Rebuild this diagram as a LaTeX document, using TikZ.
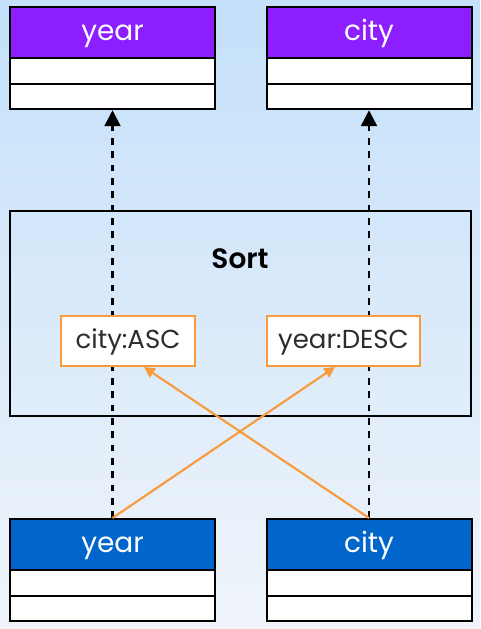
\documentclass[tikz,border=0pt]{standalone}
\usepackage{fontspec}
\setmainfont{Poppins}
\newfontfamily\sortfont{Poppins SemiBold}
\usetikzlibrary{arrows.meta}
\definecolor{hdrpurple}{RGB}{140,30,255}
\definecolor{hdrblue}{RGB}{0,102,204}
\definecolor{sortorange}{RGB}{247,155,60}
\definecolor{txtgray}{RGB}{45,45,45}
\definecolor{bgtop}{RGB}{196,224,250}
\definecolor{bgbot}{RGB}{240,244,250}
\begin{document}
\begin{tikzpicture}[x=0.75pt,y=-0.75pt,
  hdr/.style={draw=black,line width=1.5pt,minimum width=153.75pt,minimum height=38.25pt,inner sep=0pt,text=white,font=\fontsize{21}{24}\selectfont,text height=15pt,text depth=3.5pt},
  rowbox/.style={draw=black,line width=1.5pt,fill=white,minimum width=153.75pt,minimum height=19.1pt,inner sep=0pt},
  sortbox/.style={draw=black,line width=1.4pt,minimum width=345.75pt,minimum height=153.75pt,inner sep=0pt},
  keybox/.style={draw=sortorange,line width=1.6pt,fill=white,minimum height=37.5pt,inner sep=0pt,text=txtgray,font=\fontsize{19.5}{22}\selectfont,text height=14pt,text depth=3.5pt},
  flow/.style={dash pattern=on 5pt off 5pt,line width=1.9pt,-{Triangle[length=12pt,width=12pt]}},
  keyarrow/.style={draw=sortorange,line width=1.6pt,-{Triangle[length=8pt,width=8pt]}}]
\useasboundingbox (0,0) rectangle (480,629);
\shade[top color=bgtop,bottom color=bgbot] (0,0) rectangle (480,629);
% top tables
\node[hdr,fill=hdrpurple] (ty) at (112.5,32.5) {year};
\node[rowbox] (ty1) at (112.5,71) {};
\node[rowbox] (ty2) at (112.5,96.5) {};
\node[hdr,fill=hdrpurple] (tc) at (369,32.5) {city};
\node[rowbox] (tc1) at (369,71) {};
\node[rowbox] (tc2) at (369,96.5) {};
% sort
\node[sortbox] (sort) at (240.5,313.5) {};
\node[font=\sortfont\fontsize{21}{24}\selectfont,text=black] (sortlbl) at (240,259) {Sort};
% bottom tables
\node[hdr,fill=hdrblue] (by) at (112.5,544.5) {year};
\node[rowbox] (by1) at (112.5,583) {};
\node[rowbox] (by2) at (112.5,608.5) {};
\node[hdr,fill=hdrblue] (bc) at (369,544.5) {city};
\node[rowbox] (bc1) at (369,583) {};
\node[rowbox] (bc2) at (369,608.5) {};
% dashed flows (behind key boxes)
\draw[flow] (by.north) -- (ty2.south);
\draw[flow] (bc.north) -- (tc2.south);
% key boxes
\node[keybox,minimum width=100.5pt] (asc) at (128,341) {city:ASC};
\node[keybox,minimum width=114.75pt] (desc) at (343.5,341) {year:DESC};
\draw[keyarrow] (bc.north) -- ([xshift=12pt]asc.south);
\draw[keyarrow] (by.north) -- ([xshift=-6.4pt]desc.south);
\end{tikzpicture}
\end{document}
